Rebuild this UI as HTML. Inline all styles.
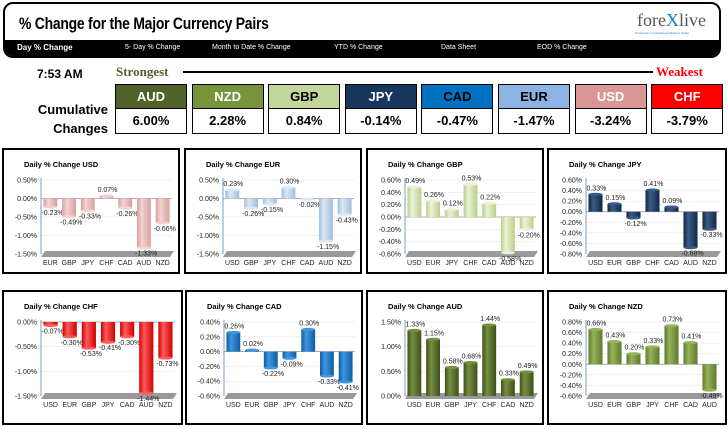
<!DOCTYPE html>
<html><head><meta charset="utf-8">
<style>
body{margin:0;width:728px;height:429px;background:#fff;position:relative;overflow:hidden;font-family:"Liberation Sans",sans-serif}
.abs{position:absolute}
#hdr{left:3px;top:2px;width:714px;height:52px;border:2px solid #000;border-radius:10px;overflow:hidden;background:#fff}
#title{left:14px;top:10px;font:bold 17px "Liberation Sans Narrow","Liberation Sans",sans-serif;transform:scaleX(0.82);transform-origin:left;letter-spacing:-0.3px;white-space:nowrap}
#bar{left:0;top:36px;width:714px;height:16px;background:#000;color:#fff;font-size:7px}
#bar span{position:absolute;top:4px;white-space:nowrap}
.box{position:absolute;width:49px;border:1px solid #000;text-align:center;font-weight:bold}
.bh{height:23px;line-height:23px;font-size:13px;border-bottom:1px solid #000}
.bv{height:24px;line-height:24px;font-size:13px;background:#fff;color:#000}
.panel{position:absolute;border:2px solid #000;background:#fff}
</style></head><body>
<div id="hdr" class="abs">
 <div id="title" class="abs">% Change for the Major Currency Pairs</div>
 <div class="abs" style="left:632px;top:6px;font:18px 'Liberation Serif',serif;color:#555">fore<span style="color:#1c7cc8">X</span>live</div>
 <div class="abs" style="left:630px;top:27px;font-size:3px;color:#1c7cc8">Tomorrow's Conventional Wisdom Today</div>
 <div id="bar" class="abs">
  <span style="left:12px;font-size:8px;font-weight:bold;top:3px">Day % Change</span>
  <span style="left:120px">5- Day % Change</span>
  <span style="left:207px">Month to Date % Change</span>
  <span style="left:329px">YTD % Change</span>
  <span style="left:436px">Data Sheet</span>
  <span style="left:532px">EOD % Change</span>
 </div>
</div>
<div class="abs" style="left:37px;top:67px;font:bold 12px 'Liberation Sans Narrow',sans-serif">7:53 AM</div>
<div class="abs" style="left:116px;top:64px;font:bold 13px 'Liberation Serif',serif;color:#4f6228">Strongest</div>
<div class="abs" style="left:183px;top:71px;width:470px;height:2px;background:#000"></div>
<div class="abs" style="left:656px;top:64px;font:bold 13px 'Liberation Serif',serif;color:#f00">Weakest</div>
<div class="abs" style="left:24px;top:100px;width:84px;text-align:right;font:bold 13px 'Liberation Sans Narrow',sans-serif;line-height:19px">Cumulative<br>Changes</div>
<div id="boxes"></div>
<div id="panels"></div>
<script>
const rankCur=["AUD","NZD","GBP","JPY","CAD","EUR","USD","CHF"];
const rankVal=["6.00%","2.28%","0.84%","-0.14%","-0.47%","-1.47%","-3.24%","-3.79%"];
const rankBg=["#4f6228","#77933c","#c3d69b","#17375e","#0070c0","#8db3e2","#da9694","#ff0000"];
const rankFg=["#fff","#fff","#000","#fff","#000","#000","#fff","#fff"];
const bx=document.getElementById('boxes');
rankCur.forEach((c,i)=>{
 const d=document.createElement('div');d.className='box';
 d.style.left=(115+i*76.6)+'px';d.style.top='84px';d.style.width='70px';
 
 
 d.innerHTML='<div class="bh" style="background:'+rankBg[i]+';color:'+rankFg[i]+'">'+c+'</div><div class="bv">'+rankVal[i]+'</div>';
 bx.appendChild(d);
});

const usdCats=["EUR","GBP","JPY","CHF","CAD","AUD","NZD"];
const usdVals=[-0.23,-0.49,-0.33,0.07,-0.26,-1.33,-0.66];
const usdTicks=[0.5,0,-0.5,-1,-1.5];
const eurCats=["USD","GBP","JPY","CHF","CAD","AUD","NZD"];
const eurVals=[0.23,-0.26,-0.15,0.30,-0.02,-1.15,-0.43];
const eurTicks=[0.5,0,-0.5,-1,-1.5];
const gbpCats=["USD","EUR","JPY","CHF","CAD","AUD","NZD"];
const gbpVals=[0.49,0.26,0.12,0.53,0.22,-0.58,-0.20];
const gbpTicks=[0.6,0.4,0.2,0,-0.2,-0.4,-0.6];
const jpyCats=["USD","EUR","GBP","CHF","CAD","AUD","NZD"];
const jpyVals=[0.33,0.15,-0.12,0.41,0.09,-0.68,-0.33];
const jpyTicks=[0.6,0.4,0.2,0,-0.2,-0.4,-0.6,-0.8];
const chfCats=["USD","EUR","GBP","JPY","CAD","AUD","NZD"];
const chfVals=[-0.07,-0.30,-0.53,-0.41,-0.30,-1.44,-0.73];
const chfTicks=[0,-0.5,-1,-1.5];
const cadCats=["USD","EUR","GBP","JPY","CHF","AUD","NZD"];
const cadVals=[0.26,0.02,-0.22,-0.09,0.30,-0.33,-0.41];
const cadTicks=[0.4,0.2,0,-0.2,-0.4,-0.6];
const audCats=["USD","EUR","GBP","JPY","CHF","CAD","NZD"];
const audVals=[1.33,1.15,0.58,0.68,1.44,0.33,0.49];
const audTicks=[1.5,1,0.5,0];
const nzdCats=["USD","EUR","GBP","JPY","CHF","CAD","AUD"];
const nzdVals=[0.66,0.43,0.20,0.33,0.73,0.41,-0.49];
const nzdTicks=[0.8,0.6,0.4,0.2,0,-0.2,-0.4,-0.6];

const charts=[
 {n:"usd",t:"Daily % Change USD",c:usdCats,v:usdVals,k:usdTicks,col:["#f2d3d2","#d8a09e"],x:2,y:148,w:174},
 {n:"eur",t:"Daily % Change EUR",c:eurCats,v:eurVals,k:eurTicks,col:["#dce8f5","#9fbde0"],x:184,y:148,w:174},
 {n:"gbp",t:"Daily % Change GBP",c:gbpCats,v:gbpVals,k:gbpTicks,col:["#eaf2d6","#b9cf86"],x:366,y:148,w:174},
 {n:"jpy",t:"Daily % Change JPY",c:jpyCats,v:jpyVals,k:jpyTicks,col:["#3a5a86","#102845"],x:547,y:148,w:176},
 {n:"chf",t:"Daily % Change CHF",c:chfCats,v:chfVals,k:chfTicks,col:["#ff5a5a","#d00000"],x:2,y:290,w:177},
 {n:"cad",t:"Daily % Change CAD",c:cadCats,v:cadVals,k:cadTicks,col:["#3f96dd","#0b5ea8"],x:185,y:290,w:174},
 {n:"aud",t:"Daily % Change AUD",c:audCats,v:audVals,k:audTicks,col:["#76903f","#3d4f1c"],x:366,y:290,w:174},
 {n:"nzd",t:"Daily % Change NZD",c:nzdCats,v:nzdVals,k:nzdTicks,col:["#94b35a","#5f7a2c"],x:547,y:290,w:176}
];
const NS="http://www.w3.org/2000/svg";
const pn=document.getElementById('panels');
function el(tag,at,par){const e=document.createElementNS(NS,tag);for(const k in at)e.setAttribute(k,at[k]);par.appendChild(e);return e;}
function fmt(v){return v.toFixed(2)+'%';}
charts.forEach(ch=>{
 const H=ch.y<200?122:131;
 const d=document.createElement('div');d.className='panel';
 d.style.left=ch.x+'px';d.style.top=ch.y+'px';d.style.width=ch.w+'px';d.style.height=H+'px';
 
 
 pn.appendChild(d);
 const s=el('svg',{width:ch.w,height:H},d);
 const g=el('defs',{},s);
 const lg=el('linearGradient',{id:'g'+ch.n,x1:0,x2:1,y1:0,y2:0},g);
 el('stop',{offset:'0','stop-color':ch.col[1]},lg);
 el('stop',{offset:'0.35','stop-color':ch.col[0]},lg);
 el('stop',{offset:'1','stop-color':ch.col[1]},lg);
 const tt=el('text',{x:20,y:17,'font-size':'7.5','font-weight':'bold','font-family':'Liberation Sans'},s);tt.textContent=ch.t;
 
 
 const top=30,bot=104,left=37,right=ch.w-6;
 const mx=ch.k[0],mn=ch.k[ch.k.length-1];
 const Y=v=>top+(mx-v)/(mx-mn)*(bot-top);
 const slot=(right-left)/ch.c.length;
 const X=i=>left+slot*(i+0.5);
 const fl=el('polygon',{points:(left)+','+(bot+3)+' '+(left+4)+','+(bot-3)+' '+(right+2)+','+(bot-3)+' '+(right-2)+','+(bot+3),fill:'#9a9a9a'},s);
 
 
 ch.k.forEach(t=>{
  if(t!==mn) el('line',{x1:left,x2:right,y1:Y(t),y2:Y(t),stroke:'#e6e6e6','stroke-width':0.6},s);
  const l=el('text',{x:left-4,y:Y(t)+2.5,'font-size':'7','text-anchor':'end',fill:'#222'},s);l.textContent=fmt(t);
  
  
 });
 el('line',{x1:left,x2:left,y1:top-2,y2:bot,stroke:'#7a9cc4','stroke-width':1},s);
 el('line',{x1:left,x2:right,y1:Y(0),y2:Y(0),stroke:'#999','stroke-width':0.7},s);
 const bw=slot*0.74;
 ch.v.forEach((v,i)=>{
  const y0=Y(0),y1=Y(v);
  const r=el('rect',{x:X(i)-bw/2,y:Math.min(y0,y1),width:bw,height:Math.max(1.2,Math.abs(y1-y0)),fill:'url(#g'+ch.n+')'},s);
  
  
  el('ellipse',{cx:X(i),cy:y1,rx:bw/2,ry:1.5,fill:ch.col[0]},s);
  const ly=v>=0?y1-4:y1+8;
  const vl=el('text',{x:X(i)-bw/2-2,y:ly,'font-size':'7',fill:'#222'},s);vl.textContent=fmt(v);
  
  
  const cl=el('text',{x:X(i),y:bot+11,'font-size':'7','text-anchor':'middle',fill:'#222'},s);cl.textContent=ch.c[i];
  
  
 });
});
</script>
</body></html>
